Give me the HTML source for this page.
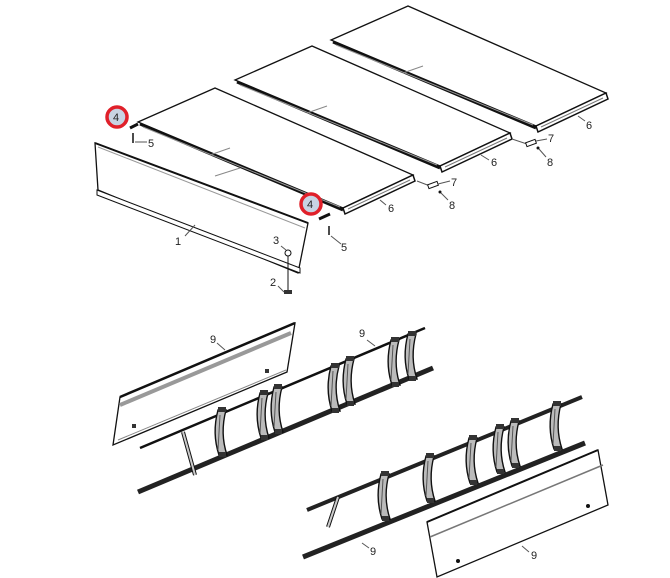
<!DOCTYPE html>
<html><head><meta charset="utf-8"><style>
html,body{margin:0;padding:0;background:#fff;width:670px;height:578px;overflow:hidden}
text{font-family:"Liberation Sans",sans-serif;font-size:11px;fill:#222}
</style></head><body>
<svg width="670" height="578" viewBox="0 0 670 578" xmlns="http://www.w3.org/2000/svg">
<defs>
<g id="slat">
<polygon points="215,88 138,122 343,208 413,175" fill="#fff" stroke="#111" stroke-width="1.3"/>
<line x1="140" y1="124" x2="343" y2="210" stroke="#111" stroke-width="3"/>
<line x1="143" y1="127" x2="340" y2="207" stroke="#999" stroke-width="1"/>
<polygon points="343,208 413,175 415,181 345,214" fill="#fff" stroke="#111" stroke-width="1.5"/>
<line x1="348" y1="209" x2="410" y2="180" stroke="#777" stroke-width="1"/>
<line x1="210" y1="155" x2="230" y2="148" stroke="#888" stroke-width="1"/>
</g>
<g id="bracket">
<path d="M-4,0 C-8,15 -8,30 -3,45 L5,45 C0,30 0,15 4,0 Z" fill="#bbb" stroke="#111" stroke-width="1.4"/>
<line x1="-2" y1="5" x2="-4" y2="40" stroke="#555" stroke-width="1"/>
<rect x="-4" y="-3" width="8" height="5" fill="#333"/>
<rect x="-3" y="42" width="7" height="5" fill="#333"/>
</g>
</defs>

<use href="#slat" transform="translate(193,-82)"/>
<use href="#slat" transform="translate(97,-42)"/>
<use href="#slat"/>

<polygon points="95,143 308,223 298,273 98,190" fill="#fff" stroke="#111" stroke-width="1.3"/>
<line x1="98" y1="147" x2="305" y2="228" stroke="#999" stroke-width="1"/>
<polygon points="97,190 300,268 300,273 97,195" fill="#fff" stroke="#111" stroke-width="1"/>
<line x1="95" y1="143" x2="308" y2="223" stroke="#111" stroke-width="2"/>
<line x1="215" y1="176" x2="240" y2="168" stroke="#888"/>

<line x1="130" y1="128" x2="138" y2="124" stroke="#111" stroke-width="3"/>
<line x1="133" y1="133" x2="133" y2="143" stroke="#111" stroke-width="1.5"/>
<line x1="135" y1="142" x2="147" y2="142" stroke="#555"/>
<line x1="319" y1="219" x2="330" y2="214" stroke="#111" stroke-width="3"/>
<line x1="329" y1="226" x2="329" y2="235" stroke="#111" stroke-width="1.5"/>
<line x1="331" y1="236" x2="341" y2="244" stroke="#555"/>
<line x1="288" y1="252" x2="288" y2="293" stroke="#111" stroke-width="1"/>
<circle cx="288" cy="253" r="3" fill="#fff" stroke="#111"/>
<rect x="284" y="290" width="8" height="4" fill="#333"/>
<line x1="281" y1="246" x2="286" y2="250" stroke="#555"/>
<line x1="278" y1="286" x2="284" y2="292" stroke="#555"/>
<line x1="185" y1="236" x2="195" y2="225" stroke="#555"/>
<line x1="417" y1="181" x2="430" y2="186" stroke="#555"/>
<rect x="428" y="183" width="10" height="4" fill="#fff" stroke="#111" transform="rotate(-20 433 185)"/>
<line x1="438" y1="184" x2="450" y2="181" stroke="#555"/>
<circle cx="440" cy="192" r="1.5" fill="#111"/>
<line x1="441" y1="193" x2="448" y2="200" stroke="#555"/>
<line x1="512" y1="139" x2="527" y2="144" stroke="#555"/>
<rect x="526" y="141" width="10" height="4" fill="#fff" stroke="#111" transform="rotate(-20 531 143)"/>
<line x1="536" y1="141" x2="547" y2="139" stroke="#555"/>
<circle cx="538" cy="148" r="1.5" fill="#111"/>
<line x1="539" y1="149" x2="546" y2="157" stroke="#555"/>
<line x1="380" y1="200" x2="386" y2="205" stroke="#555"/>
<line x1="481" y1="155" x2="489" y2="160" stroke="#555"/>
<line x1="578" y1="116" x2="585" y2="121" stroke="#555"/>

<circle cx="117" cy="117" r="10" fill="#c8d3e3" stroke="#e0202a" stroke-width="3.5"/>
<text x="113" y="121">4</text>
<circle cx="311" cy="204" r="10" fill="#c8d3e3" stroke="#e0202a" stroke-width="3.5"/>
<text x="307" y="208">4</text>

<text x="148" y="147">5</text>
<text x="341" y="251">5</text>
<text x="273" y="244">3</text>
<text x="270" y="286">2</text>
<text x="175" y="245">1</text>
<text x="388" y="212">6</text>
<text x="491" y="166">6</text>
<text x="586" y="129">6</text>
<text x="451" y="186">7</text>
<text x="449" y="209">8</text>
<text x="548" y="142">7</text>
<text x="547" y="166">8</text>

<polygon points="120,397 295,323 287,372 113,445" fill="#fff" stroke="#111" stroke-width="1.3"/>
<line x1="120" y1="397" x2="295" y2="323" stroke="#111" stroke-width="2.5"/>
<line x1="120" y1="405" x2="291" y2="333" stroke="#999" stroke-width="4"/>
<line x1="118" y1="440" x2="286" y2="370" stroke="#888"/>
<rect x="132" y="424" width="4" height="4" fill="#333"/>
<rect x="265" y="369" width="4" height="4" fill="#333"/>
<line x1="140" y1="448" x2="425" y2="328" stroke="#111" stroke-width="2.5"/>
<line x1="138" y1="492" x2="433" y2="368" stroke="#222" stroke-width="5"/>
<line x1="183" y1="432" x2="195" y2="475" stroke="#111" stroke-width="4"/>
<line x1="183" y1="432" x2="195" y2="475" stroke="#ccc" stroke-width="2"/>
<use href="#bracket" transform="translate(222,410)"/>
<use href="#bracket" transform="translate(264,393)"/>
<use href="#bracket" transform="translate(278,387)"/>
<use href="#bracket" transform="translate(335,366)"/>
<use href="#bracket" transform="translate(350,359)"/>
<use href="#bracket" transform="translate(395,340)"/>
<use href="#bracket" transform="translate(412,334)"/>
<text x="210" y="343">9</text>
<line x1="217" y1="343" x2="225" y2="350" stroke="#555"/>
<text x="359" y="337">9</text>
<line x1="367" y1="340" x2="375" y2="346" stroke="#555"/>

<line x1="307" y1="510" x2="582" y2="397" stroke="#222" stroke-width="4"/>
<line x1="303" y1="557" x2="585" y2="443" stroke="#222" stroke-width="5"/>
<line x1="338" y1="497" x2="328" y2="527" stroke="#111" stroke-width="4"/>
<line x1="338" y1="497" x2="328" y2="527" stroke="#ccc" stroke-width="2"/>
<use href="#bracket" transform="translate(385,474)"/>
<use href="#bracket" transform="translate(430,456)"/>
<use href="#bracket" transform="translate(473,438)"/>
<use href="#bracket" transform="translate(500,427)"/>
<use href="#bracket" transform="translate(515,421)"/>
<use href="#bracket" transform="translate(557,404)"/>
<polygon points="427,522 598,450 608,505 437,577" fill="#fff" stroke="#111" stroke-width="1.3"/>
<line x1="427" y1="522" x2="598" y2="450" stroke="#111" stroke-width="2"/>
<line x1="430" y1="537" x2="603" y2="465" stroke="#777" stroke-width="1.5"/>
<circle cx="458" cy="561" r="2" fill="#111"/>
<circle cx="588" cy="506" r="2" fill="#111"/>
<text x="370" y="555">9</text>
<line x1="362" y1="543" x2="369" y2="548" stroke="#555"/>
<text x="531" y="559">9</text>
<line x1="522" y1="546" x2="529" y2="552" stroke="#555"/>
</svg>
</body></html>
